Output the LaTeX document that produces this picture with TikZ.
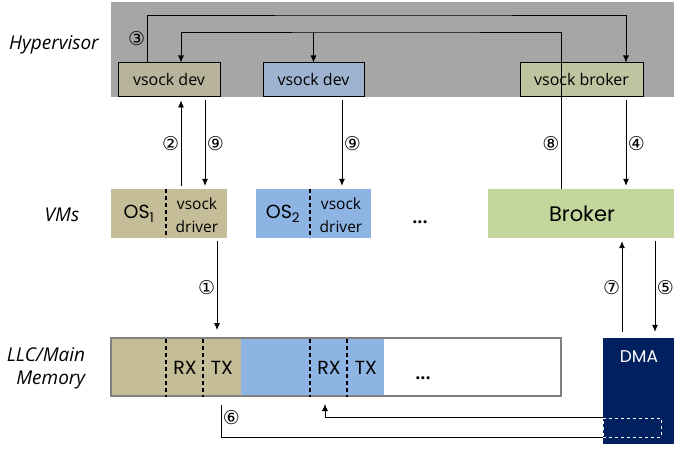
\documentclass[tikz,border=0pt]{standalone}
\usepackage{fontspec}
\setmainfont{Open Sans}
\newfontfamily\geofont{Poppins}
\newfontfamily\circfont{DejaVu Sans}
\usetikzlibrary{arrows.meta,positioning}
\definecolor{hvgray}{HTML}{A6A6A6}
\definecolor{devtan}{HTML}{B8B49B}
\definecolor{devblue}{HTML}{9DB3CF}
\definecolor{devgreen}{HTML}{BCC5A0}
\definecolor{ostan}{HTML}{C4BD97}
\definecolor{osblue}{HTML}{8EB4E3}
\definecolor{brokergreen}{HTML}{C3D69B}
\definecolor{dmanavy}{HTML}{002060}
\definecolor{memgray}{HTML}{808080}
\tikzset{
  hvbox/.style={draw,line width=1pt,minimum height=34pt,inner sep=0pt,
    font=\fontsize{16}{18}\selectfont},
  vmbox/.style={minimum height=49pt,inner sep=0pt},
  geo/.style={inner sep=0pt,font=\geofont\fontsize{19}{21}\selectfont},
  drvtext/.style={inner sep=0pt,align=center,font=\fontsize{15.5}{23}\selectfont},
  rowlabel/.style={inner sep=0pt,font=\itshape\fontsize{19}{23}\selectfont},
  divider/.style={line width=1.4pt,dash pattern=on 4pt off 3pt},
  flow/.style={->,line width=0.8pt,shorten >=3pt,shorten <=3pt},
  wire/.style={line width=0.8pt},
  num/.style={inner sep=1.5pt,font=\circfont\fontsize{19}{19}\selectfont},
  dots/.style={inner sep=0pt,font=\bfseries\fontsize{18}{18}\selectfont}
}
\begin{document}
\begin{tikzpicture}[x=1pt,y=-1pt,>={Latex[length=7pt,width=6pt]}]
  \useasboundingbox (0,0) rectangle (674,449);
  % hypervisor layer
  \fill[hvgray] (111,2) rectangle (674,97);
  \node[hvbox,fill=devtan,minimum width=102pt] (devA) at (169,80) {vsock dev};
  \node[hvbox,fill=devblue,minimum width=101pt] (devB) at (313.5,80) {vsock dev};
  \node[hvbox,fill=devgreen,minimum width=123pt] (devBr) at (581.5,80) {vsock broker};
  \coordinate (top3) at (400,15);
  \coordinate (top2) at (400,32);

  % VM layer
  \node[vmbox,fill=ostan,minimum width=116pt] (vm1) at (169,213.5) {};
  \node[vmbox,fill=osblue,minimum width=115pt] (vm2) at (313.5,213.5) {};
  \node[vmbox,fill=brokergreen,minimum width=188pt] (broker) at (582,213.5) {};
  \draw[divider] (166,189) -- (166,238);
  \draw[divider] (310,189) -- (310,238);
  \node[geo] (os1) at (139,214) {OS\textsubscript{1}};
  \node[drvtext] (drv1) at (197,215) {vsock\\driver};
  \node[geo] (os2) at (283,214) {OS\textsubscript{2}};
  \node[drvtext] (drv2) at (341,215) {vsock\\driver};
  \node[dots] (vmDots) at (420,222) {...};
  \node[geo,font=\geofont\fontsize{21}{23}\selectfont] (brokerName) at (582,214) {Broker};

  % memory layer
  \fill[ostan] (111,338) rectangle (241,396);
  \fill[osblue] (241,338) rectangle (384,396);
  \node[draw=memgray,line width=2pt,minimum width=450pt,minimum height=58pt] (mem) at (336,367) {};
  \foreach \x in {166,203,310,347}
    \draw[divider] (\x,339) -- (\x,397);
  \node[geo] (rx1) at (185,368) {RX};
  \node[geo] (tx1) at (222,368) {TX};
  \node[geo] (rx2) at (329,368) {RX};
  \node[geo] (tx2) at (366,368) {TX};
  \node[dots] (memDots) at (423,378) {...};
  \node[fill=dmanavy,minimum width=73pt,minimum height=106pt,inner sep=0pt] (dma) at (639.5,391) {};
  \node[geo,font=\geofont\fontsize{17}{19}\selectfont,text=white] (dmaName) at (639,357) {DMA};
  \node[draw=white,dashed,line width=0.8pt,minimum width=58pt,minimum height=19pt,inner sep=0pt] (slot) at (632,427.5) {};

  % row labels
  \node[rowlabel] (hvLabel) at (54,45) {Hypervisor};
  \node[rowlabel] (vmLabel) at (62,215) {VMs};
  \node[rowlabel,align=right] (memLabel) at (46,368) {LLC/Main\\Memory};

  % steps
  \draw[wire,->] ([xshift=-22pt]devA.north) |- node[pos=0.25,left,num] {③} (top3)
    -| ([xshift=44.5pt]devBr.north);
  \draw[wire,->] ([xshift=-21pt]broker.north) |- (top2) -| ([xshift=12pt]devA.north);
  \draw[wire,->] (devB.north |- top2) -- (devB.north);
  \draw[flow] ([xshift=12pt]vm1.north) -- ([xshift=12pt]devA.south) node[midway,left,num] {②};
  \draw[flow] ([xshift=36pt]devA.south) -- ([xshift=36pt]vm1.north) node[midway,right,num] {⑨};
  \draw[flow] ([xshift=28.5pt]devB.south) -- ([xshift=28.5pt]vm2.north) node[midway,right,num] {⑨};
  \path ([xshift=-21pt]broker.north) -- ([xshift=-21pt]broker.north |- devBr.south) node[midway,left,num] {⑧};
  \draw[flow] ([xshift=44.5pt]devBr.south) -- ([xshift=44.5pt]devBr.south |- broker.north) node[midway,right,num] {④};
  \draw[flow,shorten >=7pt] ([xshift=48pt]vm1.south) -- ([xshift=48pt]vm1.south |- mem.north) node[midway,left,num] {①};
  \draw[flow,shorten <=6pt] ([xshift=-17.5pt]dma.north) -- ([xshift=-17.5pt]dma.north |- broker.south) node[midway,left,num] {⑦};
  \draw[flow,shorten >=6pt] ([xshift=15.5pt]dma.north |- broker.south) -- ([xshift=15.5pt]dma.north) node[midway,right,num] {⑤};
  \draw[wire,shorten <=8pt] ([xshift=-115pt]mem.south) |- (slot.south west) node[pos=0.25,right,num] {⑥};
  \draw[wire,->,shorten >=7pt] (slot.north west) -| ([xshift=-11pt]mem.south);
\end{tikzpicture}
\end{document}
